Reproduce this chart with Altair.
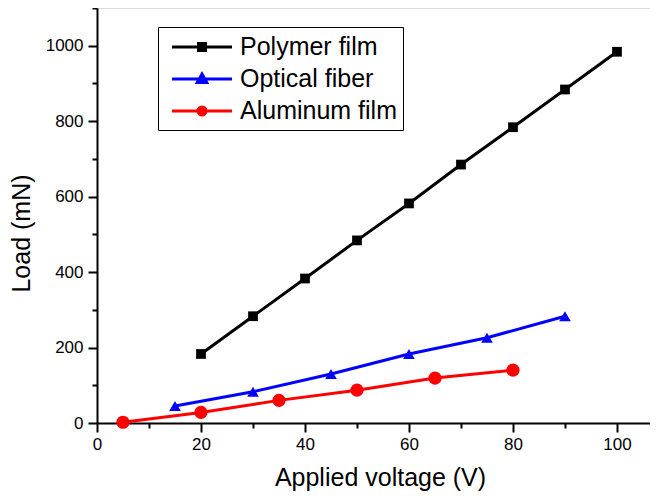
import altair as alt
import pandas as pd

series = ["Polymer film", "Optical fiber", "Aluminum film"]
colors = ["#000000", "#0000ff", "#ff0000"]

poly_x = [20, 30, 40, 50, 60, 70, 80, 90, 100]
poly_y = [183, 283, 383, 484, 582, 685, 784, 884, 984]
fiber_x = [15, 30, 45, 60, 75, 90]
fiber_y = [45, 83, 130, 183, 226, 283]
alum_x = [5, 20, 35, 50, 65, 80]
alum_y = [2, 28, 60, 87, 119, 140]

x_ticks = list(range(0, 101, 10))
y_ticks = list(range(0, 1101, 100))

rows = []
for name, xs, ys in [(series[0], poly_x, poly_y), (series[1], fiber_x, fiber_y), (series[2], alum_x, alum_y)]:
    for xv, yv in zip(xs, ys):
        rows.append({"series": name, "voltage": xv, "load": yv})
df = pd.DataFrame(rows)

FONT = "Liberation Sans"

x_axis = alt.Axis(
    values=x_ticks,
    labelExpr="datum.value % 20 === 0 ? datum.label : ''",
    tickSize={"condition": {"test": "datum.value % 20 === 0", "value": 9}, "value": 5},
    domainColor="black", domainWidth=2, tickColor="black", tickWidth=2,
    labelFont=FONT, labelFontSize=17, labelColor="black", labelPadding=4,
    labelFlush=False, labelOverlap=False, grid=False,
    title="Applied voltage (V)", titleFont=FONT, titleFontSize=25, titleFontWeight="normal",
    titleColor="black", titleX=283, titleY=62, titleBaseline="alphabetic", titleAlign="center",
)
y_axis = alt.Axis(
    values=y_ticks,
    labelExpr="datum.value % 200 === 0 ? datum.label : ''",
    tickSize={"condition": {"test": "datum.value % 200 === 0", "value": 9}, "value": 5},
    domainColor="black", domainWidth=2, tickColor="black", tickWidth=2,
    labelFont=FONT, labelFontSize=17, labelColor="black", labelPadding=5,
    labelFlush=False, labelOverlap=False, grid=False, format="d",
    title="Load (mN)", titleFont=FONT, titleFontSize=25, titleFontWeight="normal",
    titleColor="black", titleX=-68, titleY=225, titleBaseline="alphabetic", titleAlign="center",
    titleAngle=270,
)

x_enc = alt.X("voltage:Q", scale=alt.Scale(domain=[0, 106.35], nice=False, zero=False), axis=x_axis)
y_enc = alt.Y("load:Q", scale=alt.Scale(domain=[0, 1100], nice=False), axis=y_axis)

color_scale = alt.Scale(domain=series, range=colors)

base = alt.Chart(df)

lines = base.mark_line(strokeWidth=3).encode(
    x=x_enc, y=y_enc,
    color=alt.Color("series:N", scale=color_scale, legend=None),
)

points = base.mark_point(filled=True, opacity=1).encode(
    x=x_enc, y=y_enc,
    color=alt.Color("series:N", scale=color_scale, legend=None),
    shape=alt.Shape("series:N", scale=alt.Scale(domain=series, range=["square", "triangle-up", "circle"]), legend=None),
    size=alt.Size("series:N", scale=alt.Scale(domain=series, range=[95, 175, 140]), legend=None),
)

# legend symbols: a line with its marker, as custom SVG paths
legend_paths = [
    "M-0.48,0H4.32M1.64,-0.28H2.2V0.28H1.64Z",
    "M-0.48,0H4.32M1.54,0.27L2.30,0.27L1.92,-0.40Z",
    "M-0.48,0H4.32M1.60,0A0.32,0.32,0,1,1,2.24,0A0.32,0.32,0,1,1,1.60,0Z",
]

leg = alt.Legend(
    title=None, orient="none", legendX=61, legendY=19,
    strokeColor="black", fillColor="white", padding=6, rowPadding=5,
    labelFont=FONT, labelFontSize=25, labelColor="black", labelOffset=48,
    symbolSize=625, symbolStrokeWidth=3, symbolOpacity=1,
    symbolFillColor="black", symbolStrokeColor="black",
)

legend_layer = base.transform_filter("false").mark_point(strokeWidth=3, opacity=1, filled=False).encode(
    x=x_enc, y=y_enc,
    fill=alt.Fill("series:N", scale=alt.Scale(domain=series, range=colors), legend=leg),
    stroke=alt.Stroke("series:N", scale=alt.Scale(domain=series, range=colors), legend=leg),
    shape=alt.Shape("series:N", scale=alt.Scale(domain=series, range=legend_paths), legend=leg),
)

chart = alt.layer(lines, points, legend_layer).resolve_scale(
    shape="independent", size="independent", fill="independent", stroke="independent"
).properties(
    width=553, height=415,
    autosize=alt.AutoSizeParams(type="none"),
    padding={"left": 89, "top": 0, "right": 0, "bottom": 68},
).configure_view(stroke=None).configure(background="white")

chart.save("out.html", embed_options={"renderer": "svg", "actions": False})
